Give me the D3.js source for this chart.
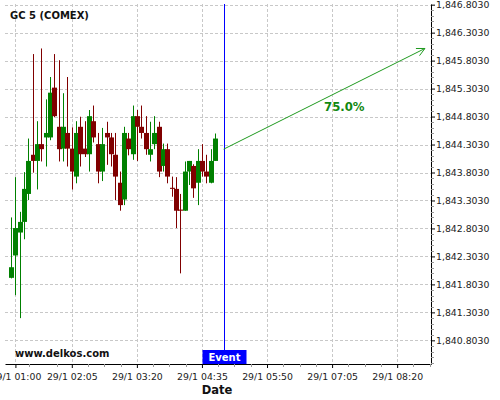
<!DOCTYPE html>
<html>
<head>
<meta charset="utf-8">
<script src="https://cdn.jsdelivr.net/npm/d3@7"></script>
<style>
  body { margin: 0; background: #fff; }
  text { font-family: "DejaVu Sans", sans-serif; }
</style>
</head>
<body>
<div id="chart"></div>
<script>
// GC 5 (COMEX) 5-minute candles, 29/1
var times = ["00:55","01:00","01:05","01:10","01:15","01:20","01:25","01:30","01:35","01:40",
  "01:45","01:50","01:55","02:00","02:05","02:10","02:15","02:20","02:25","02:30",
  "02:35","02:40","02:45","02:50","02:55","03:00","03:05","03:10","03:15","03:20",
  "03:25","03:30","03:35","03:40","03:45","03:50","03:55","04:00","04:05","04:10",
  "04:15","04:20","04:25","04:30","04:35","04:40","04:45","04:50"];
var open = [1841.92,1842.32,1842.73,1842.92,1843.42,1844.12,1844.01,1844.31,1844.43,1844.43,
  1845.32,1844.62,1844.23,1844.51,1844.23,1843.73,1844.62,1844.23,1844.13,1844.72,
  1844.31,1843.82,1844.51,1844.43,1844.12,1843.62,1843.32,1844.41,1844.13,1844.81,
  1844.62,1844.51,1844.12,1844.31,1844.62,1843.92,1844.22,1843.53,1843.51,1843.14,
  1843.12,1843.82,1843.92,1843.62,1844.01,1843.82,1843.62,1844.01];
var high = [1843.00,1843.72,1843.10,1843.81,1844.41,1845.92,1844.72,1846.02,1845.11,1845.51,
  1845.92,1845.81,1845.22,1845.51,1844.61,1844.72,1844.80,1844.72,1844.92,1845.00,
  1844.51,1844.60,1844.71,1844.51,1844.51,1843.82,1844.62,1844.51,1845.00,1844.92,
  1845.00,1844.81,1844.71,1844.81,1844.71,1844.32,1844.32,1843.73,1843.72,1843.42,
  1844.00,1844.01,1843.95,1844.22,1844.31,1844.12,1844.22,1844.50];
var low = [1841.91,1841.61,1841.20,1842.61,1843.31,1843.80,1843.50,1844.00,1843.91,1844.38,
  1844.79,1844.00,1844.00,1843.91,1843.50,1843.61,1843.91,1844.08,1843.82,1844.34,
  1843.61,1843.65,1843.94,1843.91,1843.31,1843.12,1843.22,1844.11,1844.03,1844.01,
  1844.41,1844.12,1844.00,1844.22,1843.72,1843.82,1843.61,1843.37,1842.81,1842.00,
  1843.12,1843.58,1843.35,1843.22,1843.73,1843.61,1843.61,1844.01];
var close = [1842.11,1842.81,1842.92,1843.51,1844.01,1844.01,1844.31,1844.22,1844.51,1845.23,
  1844.81,1844.22,1844.62,1844.23,1843.82,1844.51,1844.13,1844.13,1844.81,1844.43,
  1843.82,1844.31,1844.43,1844.13,1843.73,1843.22,1844.51,1844.22,1844.81,1844.62,
  1844.51,1844.22,1844.22,1844.51,1843.82,1844.22,1843.73,1843.51,1843.12,1843.12,
  1843.82,1844.01,1843.52,1844.01,1843.82,1843.73,1844.01,1844.41];

var xTickTimes = ["01:00","02:05","03:20","04:35","05:50","07:05","08:20"];
var xMinorTimes = ["01:16","01:48","02:23:45","02:42:30","03:01:15","03:38:45","03:57:30","04:16:15",
  "04:53:45","05:12:30","05:31:15","06:08:45","06:27:30","06:46:15","07:23:45","07:42:30",
  "08:01:15","08:38:45","08:57:30"];
var yTicks = [1840.803,1841.303,1841.803,1842.303,1842.803,1843.303,1843.803,1844.303,
  1844.803,1845.303,1845.803,1846.303,1846.803];

var eventTime = "05:00";
var arrowTimes = ["05:00","08:52"];
var arrowValues = [1844.22,1846.02];
var arrowLabel = "75.0%";

function t(s) {
  var p = s.split(":").map(Number);
  return new Date(2021, 0, 29, p[0], p[1], p[2] || 0);
}

var width = 500, height = 400;
var plotLeft = 5, plotRight = 431, plotTop = 4, plotBottom = 364;

var svg = d3.select("#chart").append("svg")
  .attr("width", width)
  .attr("height", height);

var xPositionScale = d3.scaleTime()
  .domain([t("00:48"), t("08:59")])
  .range([plotLeft, plotRight]);
var yPositionScale = d3.scaleLinear()
  .domain([1840.38, 1846.815])
  .range([plotBottom, plotTop]);

// grid
svg.append("g").selectAll("line")
  .data(yTicks)
  .enter().append("line")
  .attr("x1", plotLeft).attr("x2", plotRight)
  .attr("y1", function(d) { return Math.round(yPositionScale(d)) + 0.5; })
  .attr("y2", function(d) { return Math.round(yPositionScale(d)) + 0.5; })
  .attr("stroke", "#c8c8c8")
  .attr("stroke-dasharray", "3,2");

svg.append("g").selectAll("line")
  .data(xTickTimes)
  .enter().append("line")
  .attr("x1", function(d) { return Math.round(xPositionScale(t(d))) + 0.5; })
  .attr("x2", function(d) { return Math.round(xPositionScale(t(d))) + 0.5; })
  .attr("y1", plotTop).attr("y2", plotBottom)
  .attr("stroke", "#c8c8c8")
  .attr("stroke-dasharray", "3,2");

// candles
var candles = times.map(function(d, i) {
  return { time: t(d), open: open[i], high: high[i], low: low[i], close: close[i] };
});

var g = svg.append("g").selectAll("g")
  .data(candles)
  .enter().append("g");

function colour(d) { return d.close >= d.open ? "#008000" : "#800000"; }

g.append("line")
  .attr("x1", function(d) { return Math.round(xPositionScale(d.time)) + 0.5; })
  .attr("x2", function(d) { return Math.round(xPositionScale(d.time)) + 0.5; })
  .attr("y1", function(d) { return yPositionScale(d.high); })
  .attr("y2", function(d) { return yPositionScale(d.low); })
  .attr("stroke", colour)
  .attr("stroke-width", 1);

g.append("rect")
  .attr("x", function(d) { return Math.round(xPositionScale(d.time)) - 2; })
  .attr("width", 5)
  .attr("y", function(d) { return yPositionScale(Math.max(d.open, d.close)); })
  .attr("height", function(d) {
    return Math.max(1, Math.abs(yPositionScale(d.open) - yPositionScale(d.close)));
  })
  .attr("fill", colour);

// axes
var yAxis = d3.axisRight(yPositionScale)
  .tickValues(yTicks)
  .tickFormat(d3.format(",.4f"))
  .tickSize(4)
  .tickSizeOuter(0)
  .tickPadding(1);
var yg = svg.append("g")
  .attr("transform", "translate(" + plotRight + ",0)")
  .call(yAxis);
yg.selectAll("text").attr("font-size", "9.33px").attr("font-family", "DejaVu Sans").attr("fill", "#222");

var yMinor = d3.range(1840.403, 1846.85, 0.1).filter(function(v) {
  return !yTicks.some(function(m) { return Math.abs(m - v) < 0.01; });
});
svg.append("g").selectAll("line")
  .data(yMinor)
  .enter().append("line")
  .attr("x1", plotRight).attr("x2", plotRight + 3)
  .attr("y1", function(d) { return Math.round(yPositionScale(d)) + 0.5; })
  .attr("y2", function(d) { return Math.round(yPositionScale(d)) + 0.5; })
  .attr("stroke", "#999");

var xAxis = d3.axisBottom(xPositionScale)
  .tickValues(xTickTimes.map(t))
  .tickFormat(function(d) { return "29/1 " + d3.timeFormat("%H:%M")(d); })
  .tickSize(4)
  .tickSizeOuter(0)
  .tickPadding(5);
var xg = svg.append("g")
  .attr("transform", "translate(0," + plotBottom + ")")
  .call(xAxis);
xg.selectAll("text").attr("font-size", "9.33px").attr("font-family", "DejaVu Sans").attr("fill", "#222");

svg.append("g").selectAll("line")
  .data(xMinorTimes)
  .enter().append("line")
  .attr("x1", function(d) { return Math.round(xPositionScale(t(d))) + 0.5; })
  .attr("x2", function(d) { return Math.round(xPositionScale(t(d))) + 0.5; })
  .attr("y1", plotBottom).attr("y2", plotBottom + 3)
  .attr("stroke", "#999");

// event marker
var ex = Math.round(xPositionScale(t(eventTime))) + 0.5;
svg.append("line")
  .attr("x1", ex).attr("x2", ex)
  .attr("y1", plotTop).attr("y2", plotBottom)
  .attr("stroke", "#0000ff");
svg.append("rect")
  .attr("x", ex - 22).attr("y", plotBottom - 14)
  .attr("width", 44).attr("height", 14)
  .attr("fill", "#0000ff");
svg.append("text")
  .attr("x", ex).attr("y", plotBottom - 3.5)
  .attr("text-anchor", "middle")
  .attr("font-size", "10px")
  .attr("font-weight", "bold")
  .attr("fill", "#fff")
  .text("Event");

// forecast arrow
var ax1 = xPositionScale(t(arrowTimes[0])), ay1 = yPositionScale(arrowValues[0]);
var ax2 = xPositionScale(t(arrowTimes[1])), ay2 = yPositionScale(arrowValues[1]);
var ang = Math.atan2(ay2 - ay1, ax2 - ax1);
var headLen = 9, headAng = 0.46;
svg.append("line")
  .attr("x1", ax1).attr("y1", ay1)
  .attr("x2", ax2).attr("y2", ay2)
  .attr("stroke", "#1f9a1f");
svg.append("path")
  .attr("d", "M" + (ax2 - headLen * Math.cos(ang - headAng)) + "," + (ay2 - headLen * Math.sin(ang - headAng)) +
    "L" + ax2 + "," + ay2 +
    "L" + (ax2 - headLen * Math.cos(ang + headAng)) + "," + (ay2 - headLen * Math.sin(ang + headAng)))
  .attr("fill", "none")
  .attr("stroke", "#1f9a1f");
svg.append("text")
  .attr("x", (ax1 + ax2) / 2 + 20)
  .attr("y", (ay1 + ay2) / 2 + 12)
  .attr("text-anchor", "middle")
  .attr("font-size", "11.7px")
  .attr("font-weight", "bold")
  .attr("fill", "#118811")
  .text(arrowLabel);

// titles
svg.append("text")
  .attr("x", 10).attr("y", 19.3)
  .attr("font-size", "10px")
  .attr("font-weight", "bold")
  .attr("fill", "#111")
  .text("GC 5 (COMEX)");
svg.append("text")
  .attr("x", 15).attr("y", 357)
  .attr("font-size", "10px")
  .attr("font-weight", "bold")
  .attr("fill", "#111")
  .text("www.delkos.com");
svg.append("text")
  .attr("x", 217).attr("y", 393.5)
  .attr("text-anchor", "middle")
  .attr("font-size", "11.5px")
  .attr("font-weight", "bold")
  .attr("fill", "#111")
  .text("Date");
</script>
</body>
</html>
